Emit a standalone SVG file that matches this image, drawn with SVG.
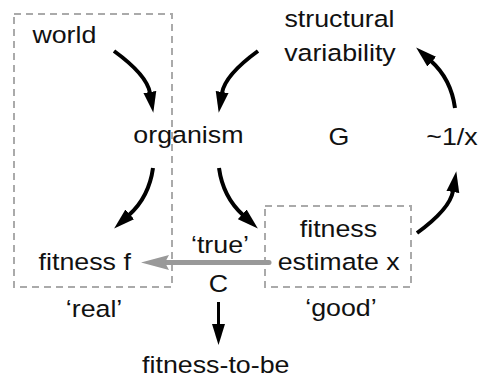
<svg xmlns="http://www.w3.org/2000/svg" width="479" height="381" viewBox="0 0 479 381">
<style>
.t{font-family:"Liberation Sans",Arial,sans-serif;font-size:23.5px;fill:#111;text-anchor:middle}
.box{fill:none;stroke:#aaaaaa;stroke-width:2;stroke-dasharray:7,5}
.arr{fill:none;stroke:#000;stroke-width:4;marker-end:url(#ah)}
</style>
<defs>
<marker id="ah" markerUnits="userSpaceOnUse" viewBox="0 -7 22 14" refX="1" refY="0" markerWidth="22" markerHeight="14" orient="auto">
<path d="M0,-6.5 L21,0 L0,6.5 z" fill="#000"/>
</marker>
<marker id="gh" markerUnits="userSpaceOnUse" viewBox="0 -8 29 16" refX="3" refY="0" markerWidth="29" markerHeight="16" orient="auto">
<path d="M0,-7.5 L28,0 L0,7.5 L4,0 z" fill="#999999"/>
</marker>
</defs>
<g id="boxes">
<rect id="real-box" class="box" x="14" y="14" width="158" height="273"/>
<rect id="good-box" class="box" x="265" y="206" width="146" height="81"/>
</g>
<g id="connectors">
<path class="arr" d="M114,51 Q147,75 150,93"/>
<path class="arr" d="M258,51 Q225,75 222,93"/>
<path class="arr" d="M153,168 Q149,197 129,215"/>
<path class="arr" d="M219,168 Q223,197 243,215"/>
<path class="arr" d="M417,233 Q450,209 453,191"/>
<path class="arr" d="M455,108 Q451,79 431,61"/>
<path fill="none" stroke="#999999" stroke-width="5" stroke-linecap="round" d="M269,262.5 L166,262.5" marker-end="url(#gh)"/>
<path fill="none" stroke="#000" stroke-width="3" d="M218.5,302 L218.5,325" marker-end="url(#ah)"/>
</g>
<g transform="scale(1.14,1)">
<g id="world"><text class="t" x="56.5" y="43">world</text></g>
<g id="organism"><text class="t" x="165.3" y="143">organism</text></g>
<g id="structural-variability"><text class="t" x="297.8" y="27">structural</text><text class="t" x="298.2" y="61">variability</text></g>
<g id="G"><text class="t" x="297.2" y="145">G</text></g>
<g id="inverse"><text class="t" x="396.5" y="145">~1/x</text></g>
<g id="fitness-f"><text class="t" x="74.3" y="270">fitness f</text></g>
<g id="true-label"><text class="t" x="193" y="253">‘true’</text></g>
<g id="C"><text class="t" x="191.7" y="292">C</text></g>
<g id="real-label"><text class="t" x="82.5" y="317">‘real’</text></g>
<g id="fitness-estimate"><text class="t" x="296.9" y="237">fitness</text><text class="t" x="297.1" y="270">estimate x</text></g>
<g id="good-label"><text class="t" x="299.1" y="316">‘good’</text></g>
<g id="fitness-to-be"><text class="t" x="189.3" y="373">fitness-to-be</text></g>
</g>
</svg>
